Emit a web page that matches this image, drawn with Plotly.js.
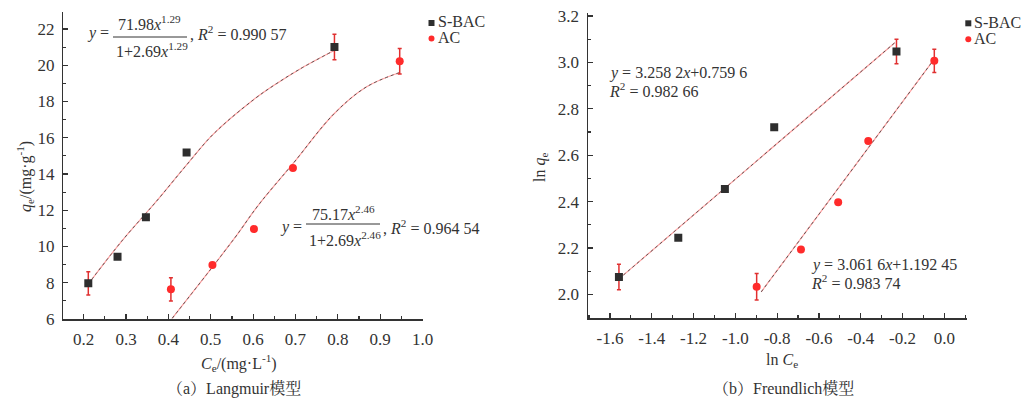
<!DOCTYPE html>
<html>
<head>
<meta charset="utf-8">
<script src="https://cdn.plot.ly/plotly-3.0.1.min.js"></script>
<style>
html,body{margin:0;padding:0;background:#fff;}
#chart{width:1035px;height:401px;}
</style>
</head>
<body>
<div id="chart"></div>
<script>
// ---- Data ----
// (a) Langmuir model
const langSbacX = [0.211, 0.280, 0.347, 0.443, 0.792];
const langSbacY = [7.97, 9.44, 11.62, 15.19, 21.01];
const langSbacErr = [0.64, 0, 0, 0, 0.70];
const langAcX = [0.406, 0.504, 0.602, 0.694, 0.946];
const langAcY = [7.64, 8.98, 10.96, 14.33, 20.22];
const langAcErr = [0.64, 0, 0, 0, 0.70];
const langSbacFitX = [0.21, 0.29, 0.372, 0.443, 0.506, 0.601, 0.656, 0.711, 0.79];
const langSbacFitY = [7.9, 10.3, 12.5, 14.5, 16.2, 18.1, 19.0, 19.8, 20.8];
const langAcFitX = [0.409, 0.553, 0.613, 0.695, 0.79, 0.867, 0.946];
const langAcFitY = [6.04, 10.36, 12.3, 14.6, 17.3, 18.8, 19.6];

// (b) Freundlich model
const frSbacX = [-1.557, -1.273, -1.050, -0.814, -0.229];
const frSbacY = [2.075, 2.244, 2.454, 2.721, 3.047];
const frSbacErr = [0.055, 0, 0, 0, 0.053];
const frAcX = [-0.898, -0.686, -0.508, -0.364, -0.048];
const frAcY = [2.033, 2.194, 2.397, 2.661, 3.007];
const frAcErr = [0.057, 0, 0, 0, 0.05];
const frSbacFitX = [-1.536, -0.237];
const frSbacFitY = [2.083, 3.085];
const frAcFitX = [-0.876, -0.060];
const frAcFitY = [2.011, 3.0];

const seriesNames = ['S-BAC', 'AC'];
const langXTicks = [0.2, 0.3, 0.4, 0.5, 0.6, 0.7, 0.8, 0.9, 1.0];
const langYTicks = [6, 8, 10, 12, 14, 16, 18, 20, 22];
const frXTicks = [-1.6, -1.4, -1.2, -1.0, -0.8, -0.6, -0.4, -0.2, 0.0];
const frYTicks = [2.0, 2.2, 2.4, 2.6, 2.8, 3.0, 3.2];

// ---- Styles ----
const SERIF = "'Liberation Serif', 'DejaVu Serif', serif";
const CJK = "'Liberation Serif', 'Noto Serif CJK SC', 'Noto Sans CJK SC', serif";
const DARK = '#2e2e2e';
const RED = '#ff2b2b';
const W = 1035, H = 401;
const px = x => x / W;
const py = y => 1 - y / H;

function fitTraces(x, y, xa, ya) {
  return [
    {x: x, y: y, xaxis: xa, yaxis: ya, mode: 'lines', type: 'scatter', showlegend: false, hoverinfo: 'skip',
     line: {color: 'rgba(255,70,70,0.5)', width: 1.2, shape: 'spline'}},
    {x: x, y: y, xaxis: xa, yaxis: ya, mode: 'lines', type: 'scatter', showlegend: false, hoverinfo: 'skip',
     line: {color: 'rgba(70,70,70,0.85)', width: 1, dash: 'dot', shape: 'spline'}}
  ];
}
function pointTrace(x, y, err, color, symbol, xa, ya, name) {
  return {x: x, y: y, xaxis: xa, yaxis: ya, mode: 'markers', type: 'scatter', name: name, showlegend: false,
    marker: {color: color, size: 8, symbol: symbol},
    error_y: {type: 'data', array: err, visible: true, color: '#e03030', thickness: 1.5, width: 2}};
}

const traces = [].concat(
  fitTraces(langSbacFitX, langSbacFitY, 'x', 'y'),
  fitTraces(langAcFitX, langAcFitY, 'x', 'y'),
  fitTraces(frSbacFitX, frSbacFitY, 'x2', 'y2'),
  fitTraces(frAcFitX, frAcFitY, 'x2', 'y2'),
  [
    pointTrace(langSbacX, langSbacY, langSbacErr, DARK, 'square', 'x', 'y', seriesNames[0]),
    pointTrace(langAcX, langAcY, langAcErr, RED, 'circle', 'x', 'y', seriesNames[1]),
    pointTrace(frSbacX, frSbacY, frSbacErr, DARK, 'square', 'x2', 'y2', seriesNames[0]),
    pointTrace(frAcX, frAcY, frAcErr, RED, 'circle', 'x2', 'y2', seriesNames[1])
  ]
);

function axisBase(extra) {
  return Object.assign({
    showline: true, linecolor: '#333', linewidth: 1.5, mirror: false,
    showgrid: false, zeroline: false,
    ticks: 'inside', ticklen: 5, tickwidth: 1.2, tickcolor: '#333',
    tickfont: {family: SERIF, size: 17, color: '#333'},
    fixedrange: true
  }, extra);
}

const layout = {
  width: W, height: H,
  margin: {l: 0, r: 0, t: 0, b: 0},
  paper_bgcolor: '#fff', plot_bgcolor: 'rgba(0,0,0,0)',
  font: {family: SERIF, size: 15, color: '#333'},
  showlegend: false,
  xaxis: axisBase({domain: [px(63.3), px(423)], range: [0.152, 1.001], anchor: 'y',
    tickvals: langXTicks, ticktext: langXTicks.map(v => v.toFixed(1)),
    minor: {dtick: 0.05, tick0: 0, ticks: 'inside', ticklen: 3, tickcolor: '#333'}, ticklabelstandoff: 4}),
  yaxis: axisBase({domain: [py(319), py(12)], range: [6, 22.94], anchor: 'x',
    tickvals: langYTicks, ticktext: langYTicks.map(String),
    minor: {dtick: 1, tick0: 0, ticks: 'inside', ticklen: 3, tickcolor: '#333'}, ticklabelstandoff: 4}),
  xaxis2: axisBase({domain: [px(588), px(966.7)], range: [-1.705, 0.107], anchor: 'y2',
    tickvals: frXTicks, ticktext: frXTicks.map(v => v.toFixed(1)),
    minor: {dtick: 0.1, tick0: 0, ticks: 'inside', ticklen: 3, tickcolor: '#333'}, ticklabelstandoff: 4}),
  yaxis2: axisBase({domain: [py(318.3), py(13)], range: [1.897, 3.213], anchor: 'x2',
    tickvals: frYTicks, ticktext: frYTicks.map(v => v.toFixed(1)),
    minor: {dtick: 0.1, tick0: 0, ticks: 'inside', ticklen: 3, tickcolor: '#333'}, ticklabelstandoff: 4}),
  shapes: [],
  annotations: []
};

const F = (size) => ({family: SERIF, size: size || 16, color: '#333'});
function ann(x, y, text, opts) {
  layout.annotations.push(Object.assign({xref: 'paper', yref: 'paper', x: px(x), y: py(y), text: text,
    showarrow: false, font: F(16), xanchor: 'center', yanchor: 'middle'}, opts || {}));
}

// Axis titles
ann(239, 363, '<i>C</i><sub>e</sub>/(mg·L<sup>-1</sup>)', {font: F(16)});
ann(25, 177, '<i>q</i><sub>e</sub>/(mg·g<sup>-1</sup>)', {font: F(16), textangle: -90});
ann(782, 360, 'ln <i>C</i><sub>e</sub>', {font: F(16)});
ann(540, 168, 'ln <i>q</i><sub>e</sub>', {font: F(16), textangle: -90});

// Captions
ann(234, 388, '（a）Langmuir模型', {font: {family: CJK, size: 16, color: '#333'}});
ann(783, 388, '（b）Freundlich模型', {font: {family: CJK, size: 16, color: '#333'}});

// Langmuir equations (fractions)
ann(85, 33, '<i>y</i> =', {xanchor: 'left'});
ann(149, 23, '71.98<i>x</i><sup>1.29</sup>');
ann(152, 50, '1+2.69<i>x</i><sup>1.29</sup>');
layout.shapes.push({type: 'line', xref: 'paper', yref: 'paper', x0: px(113), x1: px(187), y0: py(37), y1: py(37), line: {color: '#333', width: 1}});
ann(188, 33, ', <i>R</i><sup>2</sup> = 0.990 57', {xanchor: 'left'});

ann(278, 227, '<i>y</i> =', {xanchor: 'left'});
ann(343, 213, '75.17<i>x</i><sup>2.46</sup>');
ann(345, 239, '1+2.69<i>x</i><sup>2.46</sup>');
layout.shapes.push({type: 'line', xref: 'paper', yref: 'paper', x0: px(306), x1: px(380), y0: py(224), y1: py(224), line: {color: '#333', width: 1}});
ann(381, 227, ', <i>R</i><sup>2</sup> = 0.964 54', {xanchor: 'left'});

// Freundlich equations
ann(607, 73, '<i>y</i> = 3.258 2<i>x</i>+0.759 6', {xanchor: 'left'});
ann(607, 90, '<i>R</i><sup>2</sup> = 0.982 66', {xanchor: 'left'});
ann(809, 265, '<i>y</i> = 3.061 6<i>x</i>+1.192 45', {xanchor: 'left'});
ann(809, 282, '<i>R</i><sup>2</sup> = 0.983 74', {xanchor: 'left'});

// Manual legends
function legend(mx, y1, y2) {
  layout.shapes.push({type: 'rect', xref: 'paper', yref: 'paper',
    x0: px(mx - 3), x1: px(mx + 3), y0: py(y1 + 3), y1: py(y1 - 3), fillcolor: DARK, line: {width: 0}});
  layout.shapes.push({type: 'circle', xref: 'paper', yref: 'paper',
    x0: px(mx - 3), x1: px(mx + 3), y0: py(y2 + 3), y1: py(y2 - 3), fillcolor: RED, line: {width: 0}});
  ann(mx + 4, y1, seriesNames[0], {xanchor: 'left', font: F(16), yshift: 1});
  ann(mx + 4, y2, seriesNames[1], {xanchor: 'left', font: F(16), yshift: 1});
}
legend(431.5, 23, 38.5);
legend(968.3, 23.3, 39.3);

Plotly.newPlot('chart', traces, layout, {displayModeBar: false, staticPlot: true});
</script>
</body>
</html>
